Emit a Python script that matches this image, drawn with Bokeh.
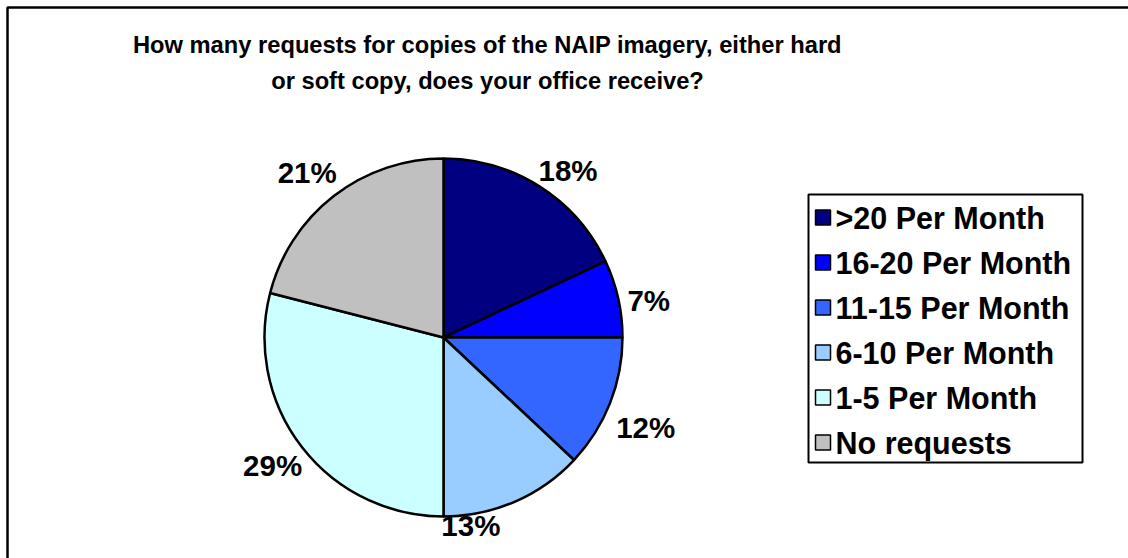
import math
from bokeh.plotting import figure
from bokeh.models import Range1d, ColumnDataSource, Label
from bokeh.embed import file_html
from bokeh.resources import INLINE

# Survey responses: share of offices by monthly request volume
categories = [">20 Per Month", "16-20 Per Month", "11-15 Per Month",
              "6-10 Per Month", "1-5 Per Month", "No requests"]
percents = [18, 7, 12, 13, 29, 21]
colors = ["#000080", "#0000FF", "#3366FF", "#99CCFF", "#CCFFFF", "#C0C0C0"]

title_lines = ["How many requests for copies of the NAIP imagery, either hard",
               "or soft copy, does your office receive?"]

W, H = 1128, 558
FONT = "Liberation Sans"

p = figure(width=W, height=H, output_backend="svg", toolbar_location=None,
           x_range=Range1d(0, W), y_range=Range1d(0, H),
           min_border=0, outline_line_color=None)
p.axis.visible = False
p.grid.visible = False
p.background_fill_color = "white"
p.border_fill_color = "white"

# outer chart frame (runs past the right and bottom of the page)
p.line([7, 7, W + 10], [-10, H - 7, H - 7], line_color="black", line_width=2.5)

# title
for i, t in enumerate(title_lines):
    p.add_layout(Label(x=487, y=H - 44 - i * 36, text=t, text_align="center",
                       text_baseline="middle", text_font=FONT,
                       text_font_size="23.7px", text_font_style="bold",
                       text_color="black"))

# pie wedges, clockwise from 12 o'clock
cx, cy, r = 443, H - 337, 179
total = float(sum(percents))
starts, ends, mids = [], [], []
acc = 0.0
for v in percents:
    a0 = math.pi / 2 - 2 * math.pi * acc / total
    acc += v
    a1 = math.pi / 2 - 2 * math.pi * acc / total
    starts.append(a0)
    ends.append(a1)
    mids.append((a0 + a1) / 2)

src = ColumnDataSource(dict(start=starts, end=ends, color=colors))
p.wedge(x=cx, y=cy, radius=r, start_angle="start", end_angle="end",
        direction="clock", fill_color="color", line_color="black",
        line_width=2.5, source=src)

# percentage labels just outside each slice, with small hand nudges (px)
label_nudge = [(8, -4), (-7, -7), (0, -15), (-59, -2), (1, -4), (-3, 5)]
lw, lh, gap = 57, 28, 10
for v, m, (nx, ny) in zip(percents, mids, label_nudge):
    c, s = math.cos(m), math.sin(m)
    lx = cx + (r + gap) * c + lw / 2 * c + nx
    ly = cy + (r + gap) * s + lh / 2 * s + ny
    p.add_layout(Label(x=lx, y=ly, text=f"{v}%", text_align="center",
                       text_baseline="middle", text_font=FONT,
                       text_font_size="29.5px", text_font_style="bold",
                       text_color="black"))

# legend box
lx0, ly_top, lx1, ly_bot = 808, H - 194, 1082, H - 462
p.quad(left=lx0, right=lx1, top=ly_top, bottom=ly_bot, fill_color="white",
       line_color="black", line_width=2)
row_h = 45
for i, (name, col) in enumerate(zip(categories, colors)):
    yc = ly_top - 23 - i * row_h
    p.quad(left=815, right=830, top=yc + 7.5, bottom=yc - 7.5,
           fill_color=col, line_color="black", line_width=1.5)
    p.add_layout(Label(x=835, y=yc, text=name, text_align="left",
                       text_baseline="middle", text_font=FONT,
                       text_font_size="30.5px", text_font_style="bold",
                       text_color="black"))

open("out.html", "w").write(file_html(p, INLINE))
